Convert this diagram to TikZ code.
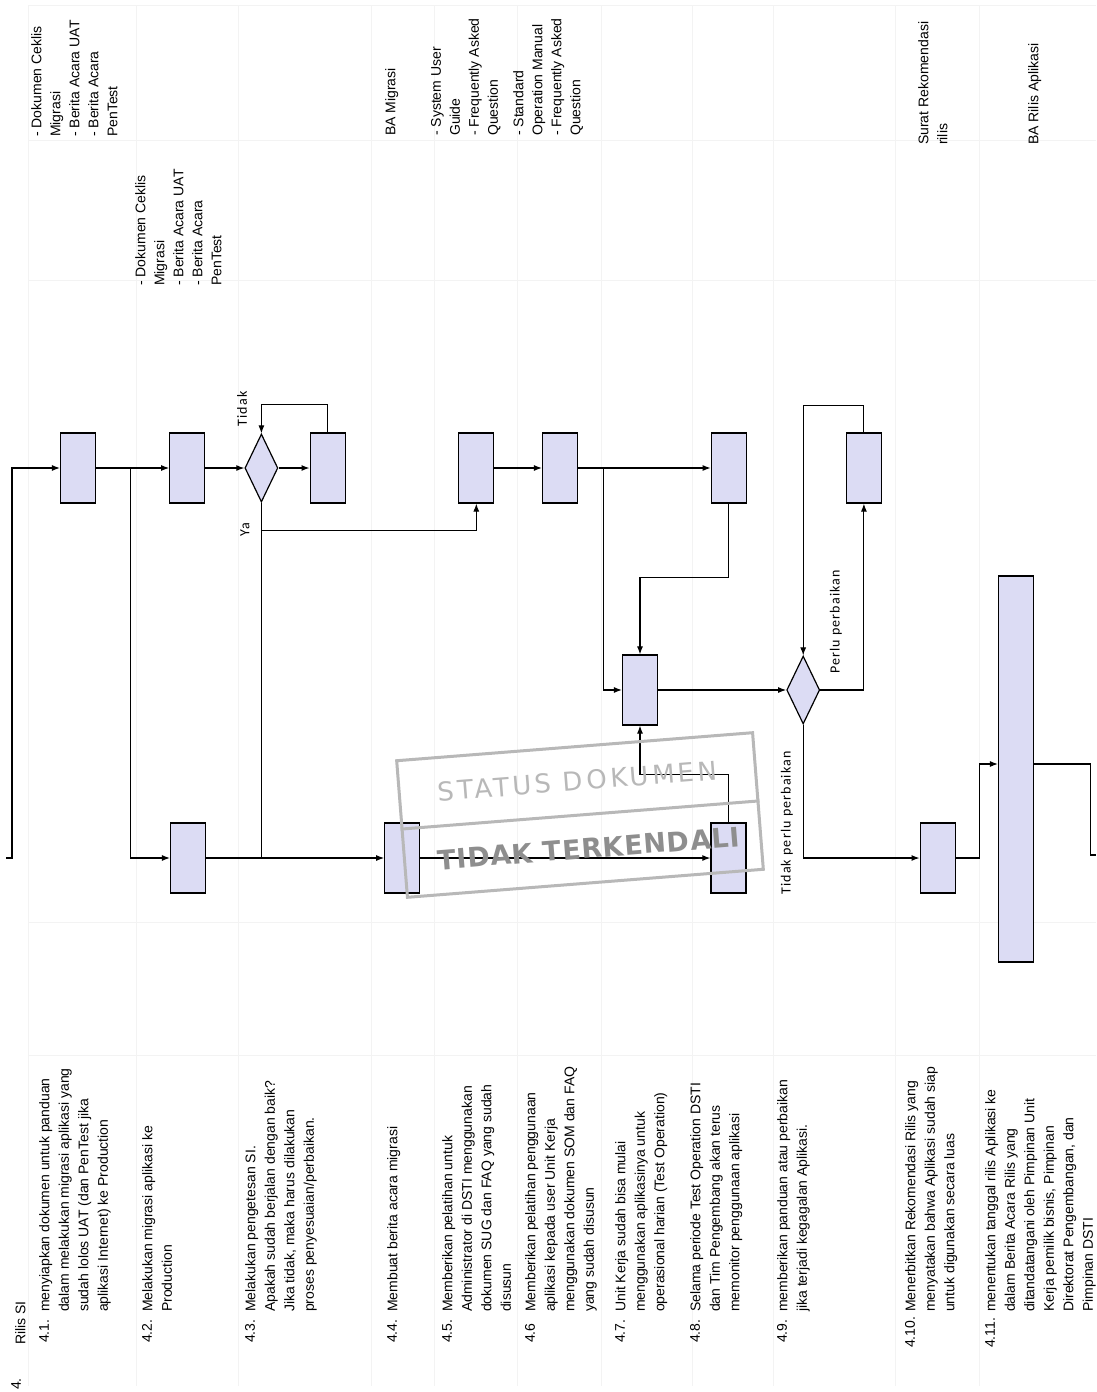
\documentclass[tikz,border=0pt]{standalone}
\usepackage{fontspec}
\setmainfont{Liberation Sans}
\newfontfamily\flowfont[LetterSpace=8]{Carlito}
\newfontfamily\stampfont[LetterSpace=13]{DejaVu Sans}
\newfontfamily\stampbold[LetterSpace=3]{DejaVu Sans Bold}
\usetikzlibrary{positioning,arrows.meta,shapes.geometric}
\definecolor{lav}{HTML}{DCDCF4}
\definecolor{rule}{HTML}{F3F3F3}
\definecolor{stampgray}{HTML}{B8B8B8}
\definecolor{stampdark}{HTML}{8E8E8E}
\tikzset{act/.style={draw=black,fill=lav,minimum width=35pt,minimum height=70pt,inner sep=0pt,line width=1.2pt},choice/.style={draw=black,fill=lav,diamond,minimum width=33pt,minimum height=68pt,inner sep=0pt,line width=1.2pt},link/.style={draw=black,-{Latex[length=8pt,width=6pt]},line width=1.1pt},wire/.style={draw=black,line width=1.1pt},steptxt/.style={rotate=90,anchor=north west,align=left,inner sep=0pt,font=\fontsize{14}{19.5}\selectfont},doctxt/.style={rotate=90,anchor=north west,align=left,inner sep=0pt,font=\fontsize{14}{19}\selectfont},answer/.style={rotate=90,inner sep=0pt,font=\flowfont\fontsize{14}{16}\selectfont},tablerule/.style={draw=rule,line width=1pt}}

\begin{document}
\begin{tikzpicture}[x=1pt,y=-1pt]
\fill[white] (0,0) rectangle (1096,1392);
\useasboundingbox (0,0) rectangle (1096,1392);
% table rules
\foreach \x in {28,136,238,371,434,517,601,692,773,895,979}\draw[tablerule] (\x,5)--(\x,1386);
\foreach \y in {5,140,280,922,1055}\draw[tablerule] (28,\y)--(1096,\y);
% documents
\node[doctxt] (o41) at (31,137) {- Dokumen Ceklis\\Migrasi\\- Berita Acara UAT\\- Berita Acara\\PenTest};
\node[doctxt] (o42) at (135,286) {- Dokumen Ceklis\\Migrasi\\- Berita Acara UAT\\- Berita Acara\\PenTest};
\node[doctxt] (o44) at (385,136) {BA Migrasi};
\node[doctxt] (o45) at (431,136) {- System User\\Guide\\- Frequently Asked\\Question};
\node[doctxt] (o46) at (513,136) {- Standard\\Operation Manual\\- Frequently Asked\\Question};
\node[doctxt] (o410) at (918,145) {Surat Rekomendasi\\rilis};
\node[doctxt] (o411) at (1028,145) {BA Rilis Aplikasi};
% lane A
\node[act] (b41) at (78,468) {};
\node[act,right=73pt of b41] (b42a) {};
\node[choice,right=39pt of b42a] (d43) {};
\node[act,right=31pt of d43] (b43) {};
\node[act,right=112.5pt of b43] (b45) {};
\node[act,right=47.5pt of b45] (b46) {};
\node[act,right=132.5pt of b46] (b48a) {};
\node[act,right=99pt of b48a] (b49) {};
% lane B
\node[act] (b47) at (640,690) {};
\node[choice,right=128pt of b47] (d49) {};
% lane C
\node[act] (b42b) at (188,858) {};
\node[act,right=178pt of b42b] (b44) {};
\node[act,right=290pt of b44] (b48b) {};
\node[act,right=173pt of b48b] (b410) {};
\node[act,minimum height=386pt] (b411) at (1016,769) {};
% connectors
\coordinate (in) at (6,858);
\coordinate (out) at (1096,855);
\draw[link] (in) -- ++(6,0) |- (b41);
\foreach \a/\b in {b41/b42a,b42a/d43,d43/b43,b45/b46,b46/b48a,b47/d49,b42b/b44,b44/b48b}\draw[link] (\a)--(\b);
\draw[link] (b41.east) ++(34,0) |- (b42b);
\draw[link] (b43.north) -- ++(0,-28) -| (d43.north);
\draw[wire] (d43.south) -- (d43.south |- b44.west);
\draw[link] (d43.south) ++(0,28) -| (b45.south);
\draw[link] (b46.east) ++(25,0) |- (b47);
\draw[link] (b48a.south) -- ++(0,74) -| (b47.north);
\draw[link] (b48b.north) -- ++(0,-48) -| (b47.south);
\draw[link] (d49.east) -| (b49.south);
\draw[link] (b49.north) -- ++(0,-27) -| (d49.north);
\draw[link] (d49.south) |- (b410);
\draw[link] (b410.east) -- ++(24,0) |- ([yshift=5pt]b411.west);
\draw[wire] ([yshift=5pt]b411.east) -- ++(56,0) |- (out);
\node[answer] (tidak1) at (242,409) {Tidak};
\node[answer] (ya) at (245,530) {Ya};
\node[answer] (perlu) at (836,622) {Perlu perbaikan};
\node[answer] (tidak2) at (787,823) {Tidak perlu perbaikan};
% steps
\node[steptxt] (h4) at (11,1390) {4.};
\node[steptxt] (h4t) at (15,1345) {Rilis SI};
\node[steptxt] (n41) at (39,1343) {4.1.};
\node[steptxt] (t41) at (39,1312) {menyiapkan dokumen untuk panduan\\dalam melakukan migrasi aplikasi yang\\sudah lolos UAT (dan PenTest jika\\aplikasi Internet) ke Production};
\node[steptxt] (n42) at (142,1343) {4.2.};
\node[steptxt] (t42) at (142,1312) {Melakukan migrasi aplikasi ke\\Production};
\node[steptxt] (n43) at (245,1343) {4.3.};
\node[steptxt] (t43) at (245,1312) {Melakukan pengetesan SI.\\Apakah sudah berjalan dengan baik?\\Jika tidak, maka harus dilakukan\\proses penyesuaian/perbaikan.};
\node[steptxt] (n44) at (387,1343) {4.4.};
\node[steptxt] (t44) at (387,1312) {Membuat berita acara migrasi};
\node[steptxt] (n45) at (442,1343) {4.5.};
\node[steptxt] (t45) at (442,1312) {Memberikan pelatihan untuk\\Administrator di DSTI menggunakan\\dokumen SUG dan FAQ yang sudah\\disusun};
\node[steptxt] (n46) at (525,1343) {4.6};
\node[steptxt] (t46) at (525,1312) {Memberikan pelatihan penggunaan\\aplikasi kepada user Unit Kerja\\menggunakan dokumen SOM dan FAQ\\yang sudah disusun};
\node[steptxt] (n47) at (615,1343) {4.7.};
\node[steptxt] (t47) at (615,1312) {Unit Kerja sudah bisa mulai\\menggunakan aplikasinya untuk\\operasional harian (Test Operation)};
\node[steptxt] (n48) at (690,1343) {4.8.};
\node[steptxt] (t48) at (690,1312) {Selama periode Test Operation DSTI\\dan Tim Pengembang akan terus\\memonitor penggunaan aplikasi};
\node[steptxt] (n49) at (777,1343) {4.9.};
\node[steptxt] (t49) at (777,1312) {memberikan panduan atau perbaikan\\jika terjadi kegagalan Aplikasi.};
\node[steptxt] (n410) at (905,1348) {4.10.};
\node[steptxt] (t410) at (905,1312) {Menerbitkan Rekomendasi Rilis yang\\menyatakan bahwa Aplikasi sudah siap\\untuk digunakan secara luas};
\node[steptxt] (n411) at (985,1348) {4.11.};
\node[steptxt] (t411) at (985,1312) {menentukan tanggal rilis Aplikasi ke\\dalam Berita Acara Rilis yang\\ditandatangani oleh Pimpinan Unit\\Kerja pemilik bisnis, Pimpinan\\Direktorat Pengembangan, dan\\Pimpinan DSTI};
% stamp
\begin{scope}[shift={(580,815)},rotate=4.5,transform shape]
\node[draw=stampgray,line width=3pt,minimum width=357pt,minimum height=137pt,inner sep=0pt] (stamp) at (0,0) {};
\draw[stampgray,line width=3pt] (stamp.west) -- (stamp.east);
\node[text=stampgray,font=\stampfont\fontsize{26}{26}\selectfont] (st1) at (0,-34) {STATUS DOKUMEN};
\node[text=stampdark,font=\stampbold\fontsize{27}{27}\selectfont] (st2) at (6,34) {TIDAK TERKENDALI};
\end{scope}
\end{tikzpicture}
\end{document}
